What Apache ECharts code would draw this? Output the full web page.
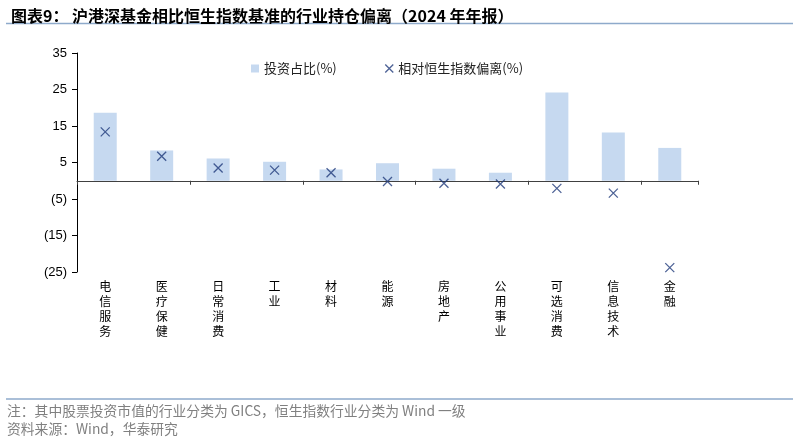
<!DOCTYPE html>
<html><head><meta charset="utf-8">
<script src="https://cdn.jsdelivr.net/npm/echarts@6/dist/echarts.min.js"></script>
<style>html,body{margin:0;padding:0;background:#fff}#c{width:800px;height:443px}</style>
</head><body><div id="c"></div>
<script>
var categories = ['电信服务','医疗保健','日常消费','工业','材料','能源','房地产','公用事业','可选消费','信息技术','金融'];
var shareValues = [18.6, 8.3, 6.1, 5.2, 3.1, 4.8, 3.3, 2.2, 24.2, 13.2, 9.0];
var deviationValues = [13.4, 6.7, 3.5, 2.9, 2.2, -0.2, -0.7, -0.9, -2.1, -3.4, -23.8];
var yTicks = [-25, -15, -5, 5, 15, 25, 35];
var seriesNames = ['投资占比(%)', '相对恒生指数偏离(%)'];

var xPath = 'path://M0,0L10,10M10,0L0,10';
var chart = echarts.init(document.getElementById('c'));
var font = '"Noto Sans CJK SC", "Liberation Sans", sans-serif';
chart.setOption({
  animation: false,
  textStyle: {fontFamily: font},
  title: {
    text: '图表9： 沪港深基金相比恒生指数基准的行业持仓偏离（2024 年年报）',
    left: 6, top: 3,
    textStyle: {fontSize: 16, fontWeight: 'bold', color: '#000', fontFamily: font}
  },
  graphic: [
    {type: 'line', shape: {x1: 6, y1: 23.5, x2: 793, y2: 23.5}, style: {stroke: '#8eaacb', lineWidth: 1.5}},
    {type: 'line', shape: {x1: 6, y1: 399, x2: 793, y2: 399}, style: {stroke: '#8eaacb', lineWidth: 1.5}},
    {type: 'text', left: 7, top: 404, style: {text: '注：其中股票投资市值的行业分类为 GICS，恒生指数行业分类为 Wind 一级', fill: '#808080', fontSize: 13.8, fontFamily: font}},
    {type: 'text', left: 7, top: 422, style: {text: '资料来源：Wind，华泰研究', fill: '#808080', fontSize: 13.8, fontFamily: font}}
  ],
  legend: {
    left: 246, top: 57, itemGap: 46, itemWidth: 8, itemHeight: 8,
    textStyle: {fontSize: 13, color: '#222', fontFamily: font},
    data: [
      {name: seriesNames[0], icon: 'rect', itemStyle: {color: '#c6d9f0'}},
      {name: seriesNames[1], icon: xPath, itemStyle: {color: 'none', borderColor: '#1f3a7a', borderWidth: 1.3}}
    ]
  },
  grid: {left: 77, right: 102, top: 53, bottom: 171},
  xAxis: [
    {
      type: 'category', data: categories,
      axisLine: {onZero: true, lineStyle: {color: '#404040', width: 1}},
      axisTick: {show: true, length: 4, lineStyle: {color: '#404040'}},
      axisLabel: {show: false}
    },
    {
      type: 'category', data: categories, position: 'bottom',
      axisLine: {show: false, onZero: false}, axisTick: {show: false},
      axisLabel: {
        margin: 7, fontSize: 12, lineHeight: 15, color: '#000', interval: 0,
        formatter: function (v) { return v.split('').join('\n'); }
      }
    }
  ],
  yAxis: {
    type: 'value', min: -25, max: 35,
    splitLine: {show: false},
    axisLine: {show: true, lineStyle: {color: '#000'}},
    axisTick: {show: true, length: 5, customValues: yTicks, lineStyle: {color: '#000'}},
    axisLabel: {
      customValues: yTicks, fontSize: 13, color: '#000', margin: 10,
      fontFamily: '"Liberation Sans", Arial, sans-serif',
      formatter: function (v) { return v < 0 ? '(' + (-v) + ')' : String(v); }
    }
  },
  series: [
    {
      name: seriesNames[0], type: 'bar', data: shareValues, barWidth: 23,
      itemStyle: {color: '#c6d9f0'}
    },
    {
      name: seriesNames[1], type: 'scatter', data: deviationValues,
      symbol: xPath, symbolSize: 9,
      itemStyle: {color: 'none', borderColor: '#1f3a7a', borderWidth: 1.3}
    }
  ]
});
</script></body></html>
